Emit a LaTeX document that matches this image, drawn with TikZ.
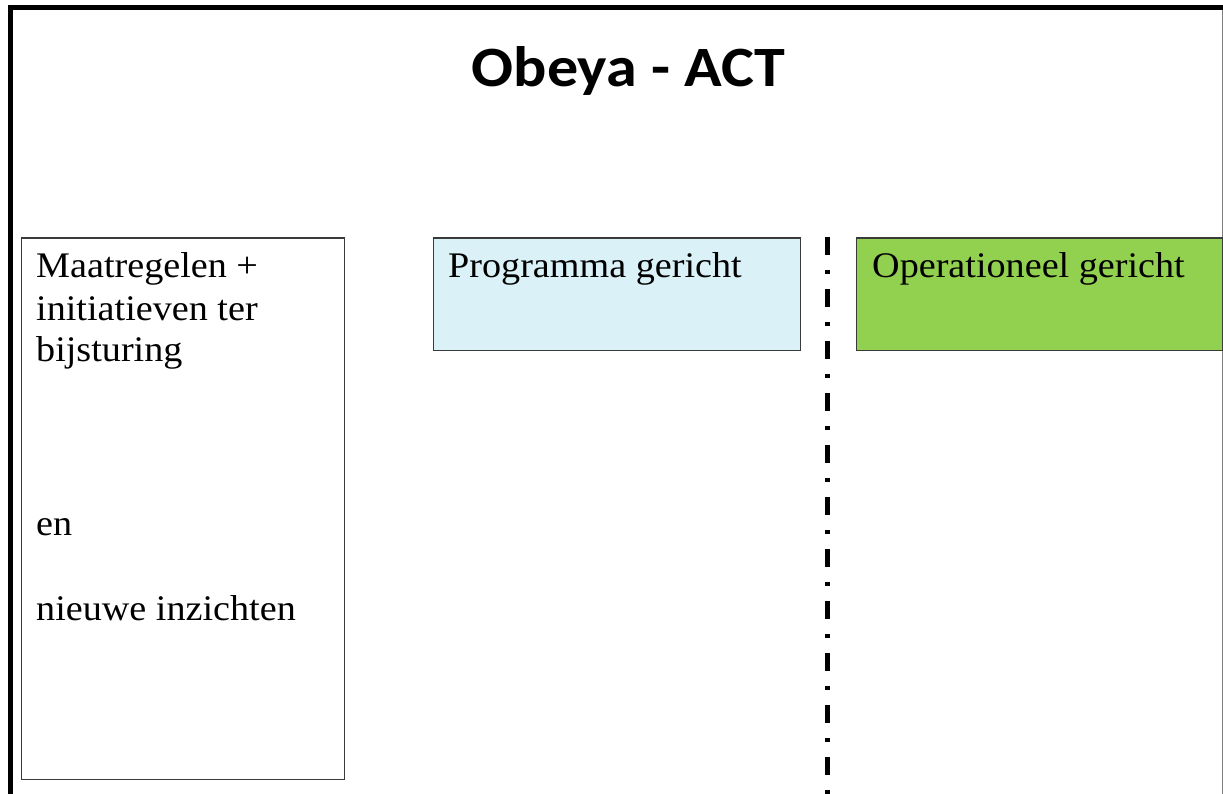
\documentclass[tikz,border=0pt]{standalone}
\usepackage{fontspec}
\setmainfont[FakeStretch=1.06]{Liberation Serif}
\newfontfamily\titlefont[FakeStretch=1.09]{Carlito}
\definecolor{lightblue}{HTML}{DAF1F7}
\definecolor{limegreen}{HTML}{92D050}
\definecolor{boxline}{HTML}{3A3A3A}
\tikzset{
  panel/.style={draw=boxline, line width=1.3pt, anchor=north west, inner sep=0pt},
  bodytext/.style={anchor=base west, inner sep=0pt, font=\fontsize{36}{41}\selectfont},
  divider/.style={line width=5pt, dash pattern=on 18pt off 15pt on 4pt off 15pt},
}
\begin{document}
\begin{tikzpicture}[x=1pt,y=-1pt]
\path[fill=white] (0,0) rectangle (1223,794);
\useasboundingbox (0,0) rectangle (1223,794);
% frame
\coordinate (fbl) at (10.5,794);
\coordinate (ftl) at (10.5,8);
\coordinate (ftr) at (1223,8);
\draw[line width=5pt] (fbl) -- (ftl) -- (ftr);
\coordinate (rt) at (1222.3,10);
\coordinate (rb) at (1222.3,794);
\draw[gray, line width=1.5pt] (rt) -- (rb);
% title
\node[anchor=base, inner sep=0pt, font=\titlefont\bfseries\fontsize{57}{60}\selectfont] (title) at (628.5,87) {Obeya - ACT};
% panels
\node[panel, fill=white, minimum width=323pt, minimum height=541pt] (left) at (20.5,237.5) {};
\node[panel, fill=lightblue, minimum width=367pt, minimum height=112pt] (prog) at (432.5,237.5) {};
\node[panel, fill=limegreen, minimum width=366pt, minimum height=112pt] (oper) at (856,237.5) {};
% texts
\node[bodytext] (l1) at (36,277) {Maatregelen +};
\node[bodytext] (l2) at (36,320) {initiatieven ter};
\node[bodytext] (l3) at (36,361) {bijsturing};
\node[bodytext] (l4) at (36,535) {en};
\node[bodytext] (l5) at (36,620) {nieuwe inzichten};
\node[bodytext] (t1) at (448,278) {Programma gericht};
\node[bodytext] (t2) at (872,277) {Operationeel gericht};
% divider
\coordinate (dtop) at (827,237);
\coordinate (dbot) at (827,794);
\draw[divider] (dtop) -- (dbot);
\end{tikzpicture}
\end{document}
